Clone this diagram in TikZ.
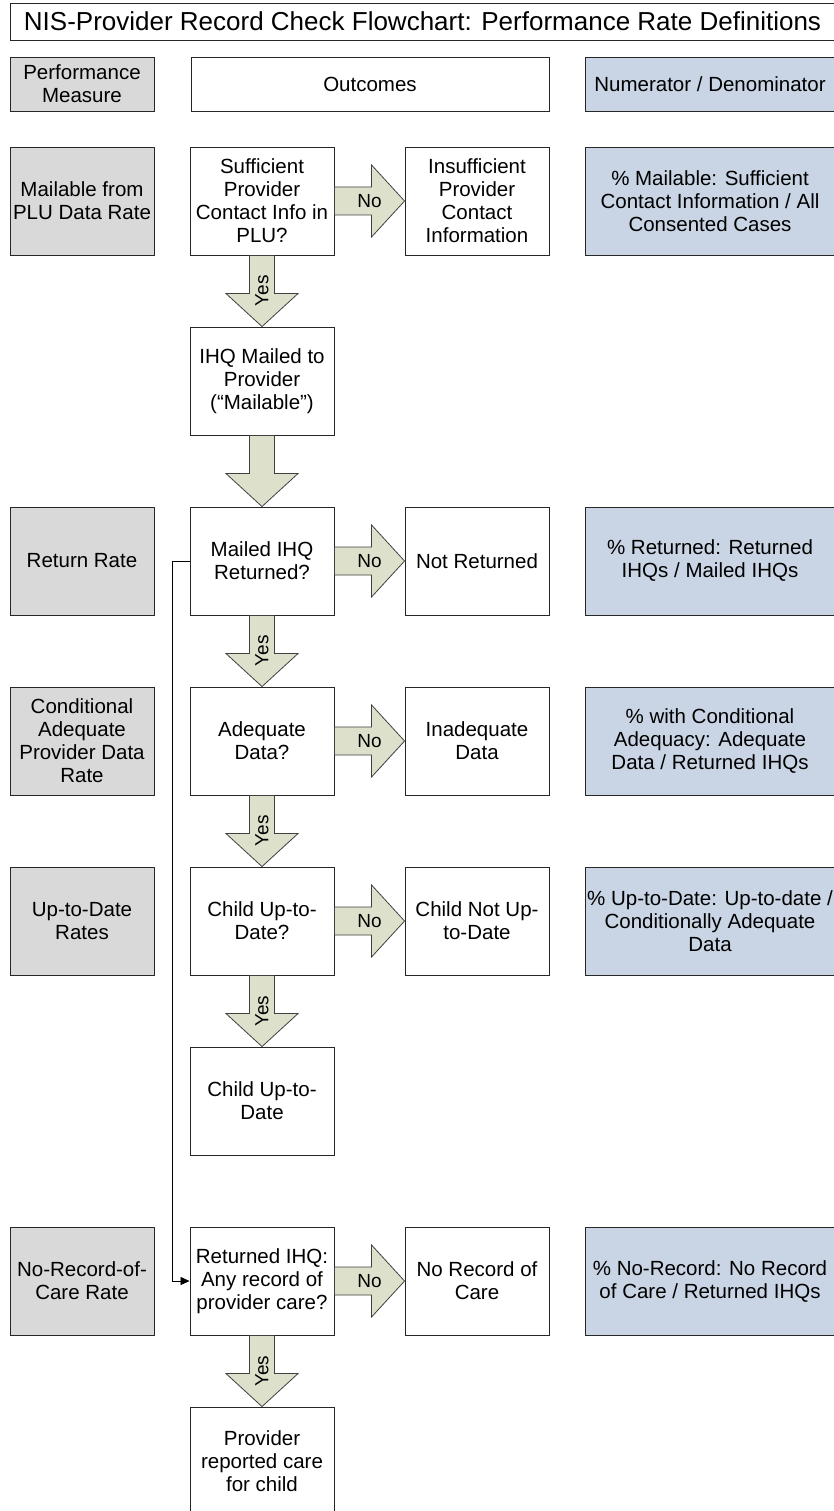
\documentclass[tikz,border=0pt]{standalone}
\usepackage{fontspec}
\setmainfont{Liberation Sans}
\usetikzlibrary{arrows.meta, positioning, calc}

\definecolor{measuregray}{HTML}{D9D9D9}
\definecolor{rateblue}{HTML}{C9D5E5}
\definecolor{arrowgreen}{HTML}{DDE1CB}

% fat block arrows between two boxes
\newcommand{\fatdown}[3]{%
  \draw[fat] ($(#1.south)+(-12.5,0)$) -- ($(#1.south)+(12.5,0)$) -- ($(#2.north)+(12.5,33)$)
    -- ($(#2.north)+(36,33)$) -- (#2.north) -- ($(#2.north)+(-36,33)$)
    -- ($(#2.north)+(-12.5,33)$) -- cycle;
  \node[yesno, rotate=90] at ($(#1.south)!0.5!(#2.north)$) {#3};}
\newcommand{\fatright}[3]{%
  \draw[fat] ($(#1.east)+(0,14)$) -- ($(#2.west)+(-33,14)$) -- ($(#2.west)+(-33,36)$)
    -- (#2.west) -- ($(#2.west)+(-33,-36)$) -- ($(#2.west)+(-33,-14)$)
    -- ($(#1.east)+(0,-14)$) -- cycle;
  \node[yesno] at ($(#1.east)!0.5!(#2.west)$) {#3};}

\begin{document}
\begin{tikzpicture}[x=1pt, y=1pt, node distance=180pt and 215pt, on grid]
  \tikzstyle{every node}=[font=\fontsize{20.5}{23}\selectfont, text=black, align=center]
  \tikzstyle{box}=[draw=black!85, line width=0.9pt, minimum width=144pt, minimum height=108pt, inner sep=1pt]
  \tikzstyle{measure}=[box, fill=measuregray]
  \tikzstyle{rate}=[box, fill=rateblue, minimum width=250pt]
  \tikzstyle{fat}=[draw=black!75, line width=0.8pt, fill=arrowgreen]
  \tikzstyle{yesno}=[font=\fontsize{19}{21}\selectfont, inner sep=0pt]
  \useasboundingbox (0,0) rectangle (833,-1511);

  % title and headers
  \node[box, minimum width=825pt, minimum height=37pt, font=\fontsize{26}{30}\selectfont] (title) at (422.5,-21.5)
    {NIS-Provider Record Check Flowchart: Performance Rate Definitions};
  \node[measure, minimum height=54pt] (hmeasure) at (82,-84) {Performance\\Measure};
  \node[box, minimum width=358pt, minimum height=54pt] (houtcome) at (370,-84) {Outcomes};
  \node[rate, minimum height=54pt] (hrate) at (710,-84) {Numerator / Denominator};

  % outcome column
  \node[box] (plu) at (262,-201) {Sufficient\\Provider\\Contact Info in\\PLU?};
  \node[box] (mailable) [below = of plu] {IHQ Mailed to\\Provider\\(“Mailable”)};
  \node[box] (returned) [below = of mailable] {Mailed IHQ\\Returned?};
  \node[box] (adequate) [below = of returned] {Adequate\\Data?};
  \node[box] (utd) [below = of adequate] {Child Up-to-\\Date?};
  \node[box] (utdyes) [below = of utd] {Child Up-to-\\Date};
  \node[box] (record) [below = of utdyes] {Returned IHQ:\\Any record of\\provider care?};
  \node[box] (care) [below = of record] {Provider\\reported care\\for child};

  % "No" outcomes
  \node[box] (noplu) [right = of plu] {Insufficient\\Provider\\Contact\\Information};
  \node[box] (noreturn) [right = of returned] {Not Returned};
  \node[box] (noadequate) [right = of adequate] {Inadequate\\Data};
  \node[box] (noutd) [right = of utd] {Child Not Up-\\to-Date};
  \node[box] (norecord) [right = of record] {No Record of\\Care};

  % measures
  \node[measure] (mplu) [left = 180pt of plu] {Mailable from\\PLU Data Rate};
  \node[measure] (mreturn) [left = 180pt of returned] {Return Rate};
  \node[measure] (madequate) [left = 180pt of adequate] {Conditional\\Adequate\\Provider Data\\Rate};
  \node[measure] (mutd) [left = 180pt of utd] {Up-to-Date\\Rates};
  \node[measure] (mrecord) [left = 180pt of record] {No-Record-of-\\Care Rate};

  % rates
  \node[rate] (rplu) [right = 233pt of noplu] {\% Mailable: Sufficient\\Contact Information / All\\Consented Cases};
  \node[rate] (rreturn) [right = 233pt of noreturn] {\% Returned: Returned\\IHQs / Mailed IHQs};
  \node[rate] (radequate) [right = 233pt of noadequate] {\% with Conditional\\Adequacy: Adequate\\Data / Returned IHQs};
  \node[rate] (rutd) [right = 233pt of noutd] {\% Up-to-Date: Up-to-date /\\Conditionally Adequate\\Data};
  \node[rate] (rrecord) [right = 233pt of norecord] {\% No-Record: No Record\\of Care / Returned IHQs};

  \fatdown{plu}{mailable}{Yes}
  \fatdown{mailable}{returned}{}
  \fatdown{returned}{adequate}{Yes}
  \fatdown{adequate}{utd}{Yes}
  \fatdown{utd}{utdyes}{Yes}
  \fatdown{record}{care}{Yes}
  \fatright{plu}{noplu}{No}
  \fatright{returned}{noreturn}{No}
  \fatright{adequate}{noadequate}{No}
  \fatright{utd}{noutd}{No}
  \fatright{record}{norecord}{No}

  \draw[-{Triangle[length=9pt, width=8pt]}, line width=0.8pt] (returned.west) -- ++(-17,0) |- (record.west);
\end{tikzpicture}
\end{document}
